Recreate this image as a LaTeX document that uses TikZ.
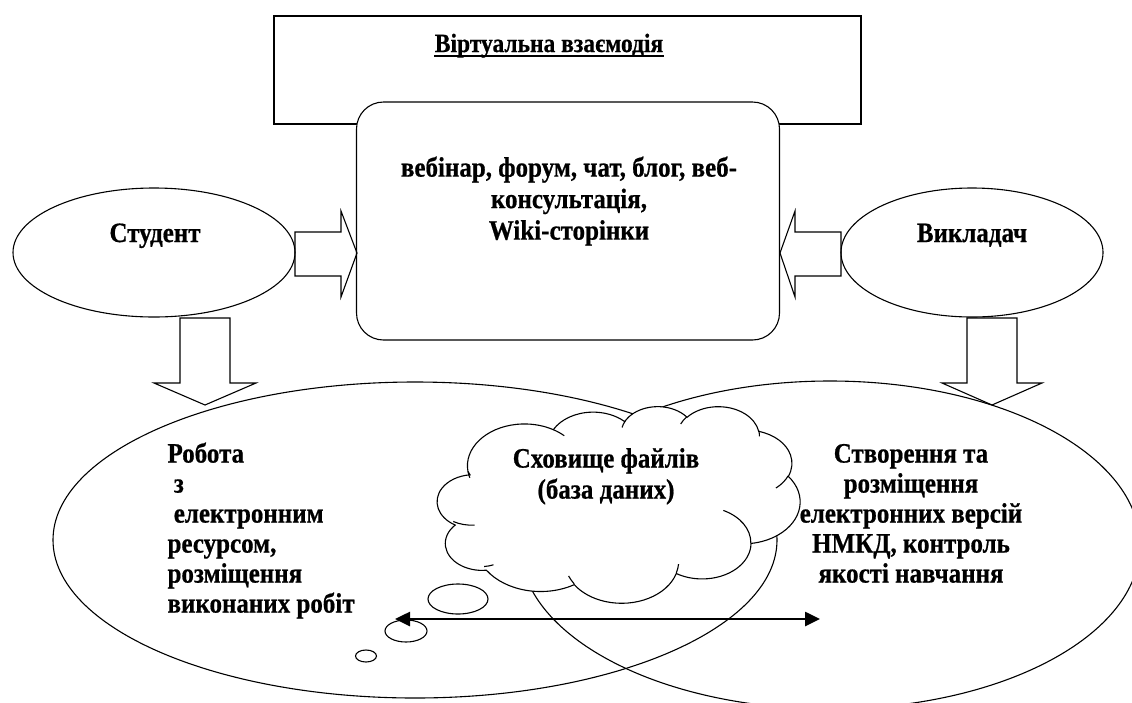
\documentclass[tikz,border=0pt]{standalone}
\usepackage{fontspec}
\setmainfont{Liberation Serif}[BoldFeatures={FakeBold=0.7}]
\usepackage{graphicx}
\usetikzlibrary{shapes.geometric,arrows.meta}

\newcommand\cldsx{0.8449}
\newcommand\cldsy{0.455}
\newcommand\cldxo{435}
\newcommand\cldyo{406}
\newcommand\vstretch[1]{\scalebox{1}[1.12]{#1}}
% OOXML-style arcTo: wR, hR (path units), start angle, sweep (visual degrees)
\newcommand\cldprep[5]{%
  \pgfmathsetmacro\cldtA{atan2((#2)*sin(#4),(#3)*cos(#4))}%
  \pgfmathsetmacro\cldtB{atan2((#2)*sin((#4)+(#5)),(#3)*cos((#4)+(#5)))}%
  \pgfmathsetmacro\cldtD{mod((\cldtB)-(\cldtA)+720,360)}%
  \pgfmathsetmacro\cldrx{(#2)*\cldsx}%
  \pgfmathsetmacro\cldry{(#3)*\cldsy}%
  \tikzset{#1/.style/.expanded={start angle=\cldtA, delta angle=\cldtD, x radius=\cldrx, y radius=\cldry}}%
}

\begin{document}
\begin{tikzpicture}[x=1pt,y=-1pt,
  line width=1.1pt,
  every node/.style={inner sep=0pt},
  txt/.style={font=\fontsize{25}{#1}\selectfont\bfseries},
  shapebox/.style={draw, fill=white, inner sep=0pt, outer sep=0pt},
  oval/.style={ellipse, draw, inner sep=0pt, outer sep=0pt},
  blockarrow/.style={draw, line join=miter},
  bubble/.style={draw, fill=white}]
\clip (0,0) rectangle (1132,702);

% cloud arc definitions
\cldprep{coa}{67.53}{91.90}{-190.4875}{123.7805}
\cldprep{cob}{53.33}{72.67}{-144.1024}{89.9452}
\cldprep{coc}{43.65}{59.45}{-145.8079}{99.7230}
\cldprep{cod}{48.57}{65.95}{-130.9861}{117.2417}
\cldprep{coe}{53.33}{72.73}{-78.7089}{109.0269}
\cldprep{cof}{67.75}{92.20}{-46.2673}{130.2690}
\cldprep{cog}{57.85}{78.67}{0.6250}{114.0333}
\cldprep{coh}{67.52}{92.15}{22.4516}{115.1726}
\cldprep{coi}{77.20}{105.43}{66.2426}{71.3650}
\cldprep{coj}{43.60}{59.18}{-274.9421}{146.7356}
\cldprep{cok}{43.45}{59.45}{-246.8285}{152.5189}
\cldprep{cia}{43.45}{59.45}{86.7420}{26.4295}
\cldprep{cib}{43.60}{59.18}{73.6105}{11.4475}
\cldprep{cic}{67.52}{92.15}{137.6242}{14.0811}
\cldprep{cid}{67.52}{92.15}{6.4533}{15.9984}
\cldprep{cie}{57.85}{78.67}{-70.2924}{70.9174}
\cldprep{cif}{53.33}{72.73}{30.3180}{27.7515}
\cldprep{cig}{48.57}{65.95}{-13.7443}{14.8589}
\cldprep{cih}{48.57}{65.95}{-149.1815}{18.1954}
\cldprep{cii}{43.65}{59.45}{-163.4943}{17.6864}
\cldprep{cij}{67.53}{91.90}{-66.7070}{12.3194}
\cldprep{cik}{67.53}{91.90}{157.6544}{11.8582}

% top rectangle and rounded box
\node[shapebox, minimum width=587pt, minimum height=108pt] (virt) at (567.5,70) {};
\node[anchor=base, font=\fontsize{23.5}{28}\selectfont\bfseries] (title) at (549,52) {\vstretch{Віртуальна взаємодія}};
\draw[line width=1.8pt] ([yshift=-4pt]title.base west) -- ([yshift=-4pt]title.base east);
\node[shapebox, rounded corners=27pt, minimum width=423pt, minimum height=238pt] (tools) at (568,221) {};
\node[txt=28.125, anchor=north] (toolstext) at (569,154) {\vstretch{\begin{tabular}{@{}c@{}}вебінар, форум, чат, блог, веб-\\консультація,\\Wiki-сторінки\end{tabular}}};

% student and teacher ovals
\node[oval, minimum width=282pt, minimum height=129pt] (stud) at (154,252.5) {};
\node[txt=30, anchor=base] (studtext) at (155,242) {\vstretch{Студент}};
\node[oval, minimum width=262pt, minimum height=129pt] (teach) at (972,252.5) {};
\node[txt=30, anchor=base] (teachtext) at (972,242) {\vstretch{Викладач}};

% block arrows
\draw[blockarrow] (295,232) -- (341,232) -- (341,211) -- (357,253) -- (341,297) -- (341,276) -- (295,276) -- cycle;
\draw[blockarrow] (841,232) -- (795,232) -- (795,211) -- (780,253) -- (795,297) -- (795,276) -- (841,276) -- cycle;
\draw[blockarrow] (180,318) -- (230,318) -- (230,383) -- (256,383) -- (205,405) -- (154,383) -- (180,383) -- cycle;
\draw[blockarrow] (967,318) -- (1017,318) -- (1017,383) -- (1042,383) -- (992,405) -- (942,383) -- (967,383) -- cycle;

% big ovals
\draw (415,540) ellipse[x radius=362, y radius=158];
\draw (830,545) ellipse[x radius=310, y radius=164];

% cloud
\draw[fill=white] ({\cldxo+39.00*\cldsx},{\cldyo+143.70*\cldsy}) arc[coa] arc[cob] arc[coc] arc[cod] arc[coe] arc[cof]
  arc[cog] arc[coh] arc[coi] arc[coj] arc[cok] -- cycle;
\draw ({\cldxo+46.93*\cldsx},{\cldyo+261.77*\cldsy}) arc[cia];
\draw ({\cldxo+69.28*\cldsx},{\cldyo+348.99*\cldsy}) arc[cib];
\draw ({\cldxo+164.78*\cldsx},{\cldyo+390.90*\cldsy}) arc[cic];
\draw ({\cldxo+288.27*\cldsx},{\cldyo+347.51*\cldsy}) arc[cid];
\draw ({\cldxo+341.29*\cldsx},{\cldyo+229.54*\cldsy}) arc[cie];
\draw ({\cldxo+417.98*\cldsx},{\cldyo+153.54*\cldsy}) arc[cif];
\draw ({\cldxo+383.24*\cldsx},{\cldyo+54.26*\cldsy}) arc[cig];
\draw ({\cldxo+290.78*\cldsx},{\cldyo+39.52*\cldsy}) arc[cih];
\draw ({\cldxo+221.41*\cldsx},{\cldyo+47.20*\cldsy}) arc[cii];
\draw ({\cldxo+140.00*\cldsx},{\cldyo+51.92*\cldsy}) arc[cij];
\draw ({\cldxo+41.27*\cldsx},{\cldyo+157.89*\cldsy}) arc[cik];
\node[txt=27.68, anchor=north] (store) at (606,445.3) {\vstretch{\begin{tabular}{@{}c@{}}Сховище файлів\\(база даних)\end{tabular}}};

% thought bubbles
\draw[bubble] (458,599) ellipse[x radius=30, y radius=15];
\draw[bubble] (406,631) ellipse[x radius=21, y radius=11];
\draw[bubble] (366,656) ellipse[x radius=10.5, y radius=6];

% texts of the big ovals
\node[txt=26.79, anchor=north west] (worktext) at (167,441) {\vstretch{\begin{tabular}{@{}l@{}}Робота\\\ з\\\ електронним\\ресурсом,\\розміщення\\виконаних робіт\end{tabular}}};
\node[txt=26.79, anchor=north] (maketext) at (911,441) {\vstretch{\begin{tabular}{@{}c@{}}Створення та\\розміщення\\електронних версій\\НМКД, контроль\\якості навчання\end{tabular}}};

% double arrow
\coordinate (dl) at (395,619);
\coordinate (dr) at (820,619);
\draw[line width=2.6pt, {Triangle[length=15pt,width=14pt]}-{Triangle[length=15pt,width=14pt]}] (dl) -- (dr);
\end{tikzpicture}
\end{document}
